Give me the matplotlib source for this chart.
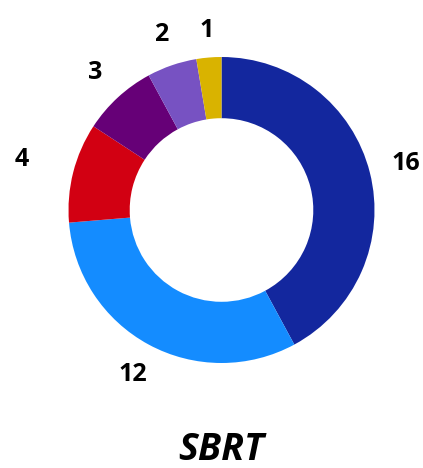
import matplotlib
matplotlib.use("Agg")
import matplotlib.pyplot as plt
import numpy as np

values = [16, 12, 4, 3, 2, 1]
labels = ["16", "12", "4", "3", "2", "1"]
colors = ["#13279e", "#148cff", "#d20012", "#660077", "#7752c2", "#d9b300"]
label_dist = [1.24, 1.22, 1.35, 1.22, 1.21, 1.18]

W, H = 423, 468
fig = plt.figure(figsize=(W / 100, H / 100), dpi=100)

# ring centre / radius in pixels
cx, cy, r = 221.5, H - 210, 153
ax = fig.add_axes([(cx - r) / W, (cy - r) / H, 2 * r / W, 2 * r / H])

wedges, _ = ax.pie(values, colors=colors, startangle=90, counterclock=False,
                   radius=1, wedgeprops=dict(width=0.4, linewidth=0))

for w, lab, d in zip(wedges, labels, label_dist):
    ang = np.deg2rad((w.theta1 + w.theta2) / 2)
    ax.text(d * np.cos(ang), d * np.sin(ang), lab, ha="center", va="center",
            fontsize=18, fontweight="bold", family="Open Sans")

ax.set_xlim(-1, 1)
ax.set_ylim(-1, 1)
ax.set_axis_off()

fig.text(cx / W, 1 - 450 / H, "SBRT", ha="center", va="center",
         fontsize=27, fontweight="bold", fontstyle="italic", family="Open Sans")

fig.savefig("out.png", dpi=100)
